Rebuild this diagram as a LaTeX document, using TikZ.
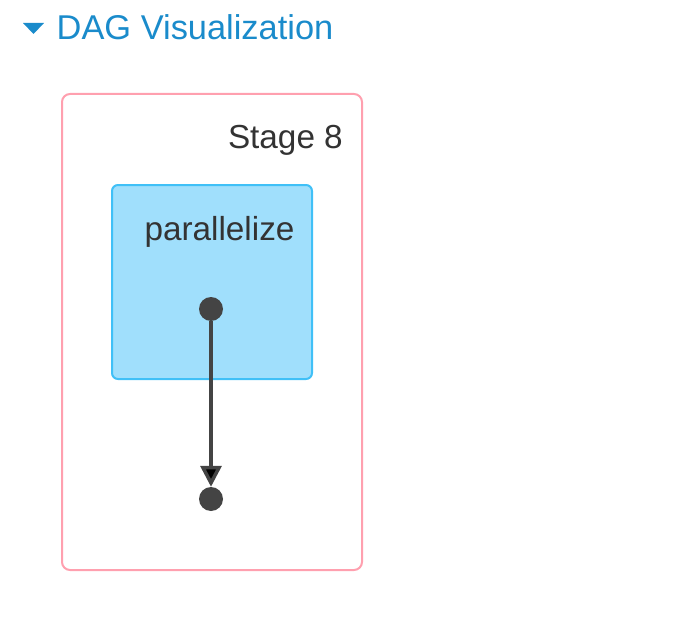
\documentclass[tikz,border=0pt]{standalone}
\usepackage{fontspec}
\setmainfont{Liberation Sans}
\usetikzlibrary{arrows.meta}
\definecolor{titleblue}{HTML}{1A8BCB}
\definecolor{stagepink}{HTML}{FFA0AF}
\definecolor{opfill}{HTML}{A0DFFC}
\definecolor{opdraw}{HTML}{40C0F7}
\definecolor{dotgray}{HTML}{444444}
\definecolor{textgray}{HTML}{333333}
\tikzset{
  stagebox/.style={draw=stagepink, line width=2pt, rounded corners=8pt},
  opbox/.style={draw=opdraw, fill=opfill, line width=2pt, rounded corners=6pt},
  dagdot/.style={circle, fill=dotgray, inner sep=0pt, minimum size=24pt},
  edge/.style={draw=dotgray, line width=3.5pt, -{Triangle[width=21pt,length=21pt,fill=black]}},
  lbl/.style={text=textgray, inner sep=0pt, font=\fontsize{33.3}{38}\selectfont}
}
\begin{document}
\begin{tikzpicture}[x=1pt,y=-1pt]
\useasboundingbox (0,0) rectangle (686,626);
\fill[titleblue] (23,23) -- (44,23) -- (33.5,34) -- cycle;
\node[anchor=base west, inner sep=0pt, text=titleblue, font=\fontsize{34.4}{40}\selectfont] (title) at (56.5,40) {DAG Visualization};
\draw[stagebox] (62,94) rectangle (362,570);
\node[lbl, anchor=base east] (stage) at (343,148) {Stage 8};
\draw[opbox] (112,185) rectangle (312,379);
\node[lbl, anchor=base] (op) at (219.5,240) {parallelize};
\node[dagdot] (d1) at (211,309) {};
\node[dagdot] (d2) at (211,499) {};
\draw[edge] (d1) -- (d2);
\end{tikzpicture}
\end{document}
